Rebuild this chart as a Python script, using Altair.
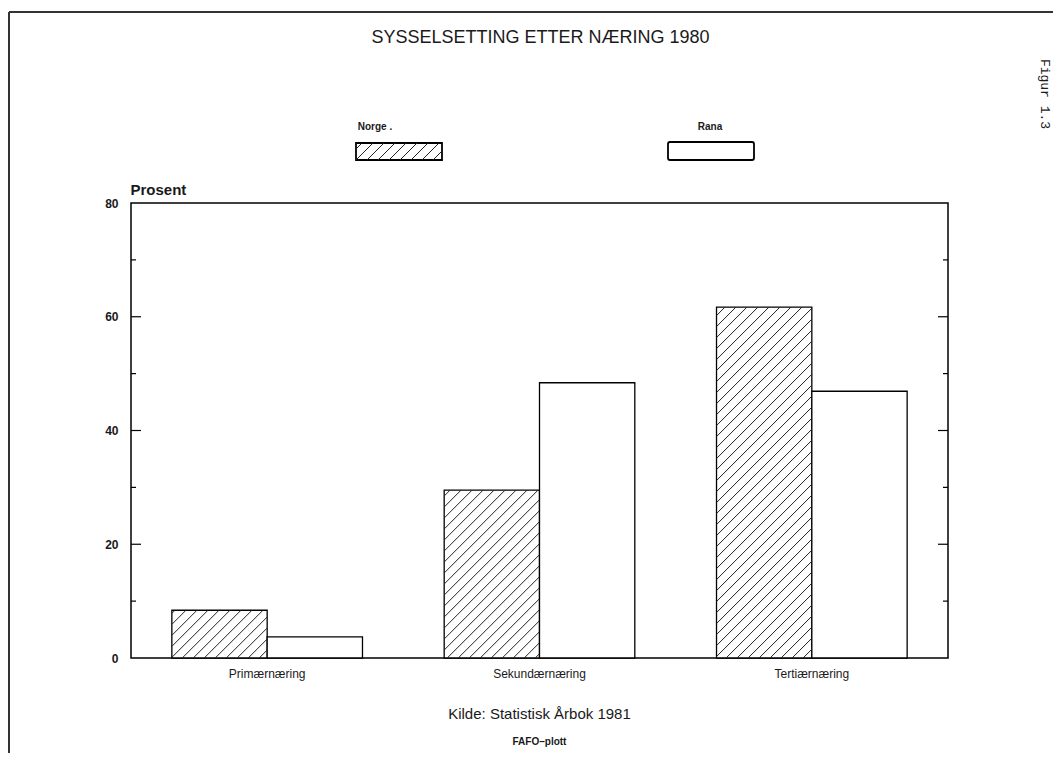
import altair as alt
import pandas as pd

# ---------------- data ----------------
categories = ["Primærnæring", "Sekundærnæring", "Tertiærnæring"]
series = ["Norge", "Rana"]
norge = [8.4, 29.5, 61.7]
rana = [3.7, 48.4, 46.9]
y_label_values = [0, 20, 40, 60, 80]
y_major_ticks = [20, 40, 60]
y_minor_ticks = [10, 30, 50, 70]

# ---------------- layout constants ----------------
W, H = 817, 455
YMAX = 80
OFF_PAD = 3 / 7            # outer padding of the xOffset band scale
HATCH_STEP = 11            # px between hatch lines (horizontal)
FONT = "Liberation Sans"
INK = "#1a1a1a"

rows = []
for i, c in enumerate(categories):
    rows.append({"Næring": c, "Område": "Norge", "Prosent": norge[i]})
    rows.append({"Næring": c, "Område": "Rana", "Prosent": rana[i]})
df = pd.DataFrame(rows)


def hatch_lines(x0, x1, y0, y1, step=HATCH_STEP):
    """45-degree '/' hatch inside pixel rect (y up)."""
    out = []
    w, h = x1 - x0, y1 - y0
    c = -h - (x0 % step)
    while c < w:
        u0, u1 = max(0.0, c), min(w, h + c)
        if u1 > u0:
            out.append((x0 + u0, y0 + u0 - c, x0 + u1, y0 + u1 - c))
        c += step
    return out


# hatch for the Norge bars, in data units (x: 0..3 bands, y: 0..80)
bw_px = W / len(categories)
ypx = H / YMAX
step_frac = 1 / (2 + 2 * OFF_PAD)
left_frac = OFF_PAD * step_frac
hrows = []
for i, v in enumerate(norge):
    x0 = (i + left_frac) * bw_px
    x1 = (i + left_frac + step_frac) * bw_px
    for a, b, c2, d in hatch_lines(x0, x1, 0, v * ypx):
        hrows.append({"hx": a / bw_px, "hy": b / ypx, "hx2": c2 / bw_px, "hy2": d / ypx})
hatch_df = pd.DataFrame(hrows)

# legend swatch geometry (pixels relative to plot origin, y down)
LEG_NORGE = (225, 311, -60, -43)
LEG_RANA = (537, 623, -61, -43)
lrows = []
for a, b, c2, d in hatch_lines(LEG_NORGE[0], LEG_NORGE[1], -LEG_NORGE[3], -LEG_NORGE[2]):
    lrows.append({"lx": a, "ly": -b, "lx2": c2, "ly2": -d})
leg_hatch_df = pd.DataFrame(lrows)

one = pd.DataFrame({"d": [0]})
yscale = alt.Scale(domain=[0, YMAX], nice=False, zero=True)

# ---------------- bars ----------------
bars = alt.Chart(df).mark_bar(fill="white", stroke="black", strokeWidth=1.3).encode(
    x=alt.X(
        "Næring:N",
        sort=categories,
        scale=alt.Scale(paddingInner=0, paddingOuter=0, round=False),
        axis=alt.Axis(
            title=None, labelAngle=0, ticks=False, domain=False, labelPadding=10,
            labelFont=FONT, labelFontSize=12, labelColor=INK,
        ),
    ),
    xOffset=alt.XOffset(
        "Område:N", sort=series,
        scale=alt.Scale(paddingInner=0, paddingOuter=OFF_PAD, round=False),
    ),
    y=alt.Y(
        "Prosent:Q",
        scale=yscale,
        axis=alt.Axis(
            values=y_label_values, ticks=False, domain=False, grid=False,
            labelPadding=13, labelFont=FONT, labelFontSize=12, labelFontWeight="bold",
            labelColor=INK,
            title="Prosent", titleAngle=0, titleAlign="left", titleBaseline="alphabetic",
            titleX=-1, titleY=-9, titleFont=FONT, titleFontSize=15, titleFontWeight="bold",
            titleColor=INK,
        ),
    ),
)

hatch = alt.Chart(hatch_df).mark_rule(color="#222", strokeWidth=1).encode(
    x=alt.X("hx:Q", scale=alt.Scale(domain=[0, len(categories)], nice=False, zero=False), axis=None),
    x2="hx2:Q",
    y=alt.Y("hy:Q", scale=yscale, axis=None),
    y2="hy2:Q",
)

# ---------------- inward ticks ----------------
def ticks(vals, x0, x1):
    return alt.Chart(pd.DataFrame({"v": vals})).mark_rule(color="black", strokeWidth=1.2).encode(
        y=alt.Y("v:Q", scale=yscale, axis=None), x=alt.value(x0), x2=alt.value(x1)
    )

tick_layers = [
    ticks(y_major_ticks, 0, 10), ticks(y_minor_ticks, 0, 5),
    ticks(y_major_ticks, W - 10, W), ticks(y_minor_ticks, W - 5, W),
]

# ---------------- legend ----------------
def swatch(g, radius=0):
    return alt.Chart(one).mark_rect(fill="white", stroke="black", strokeWidth=1.8, cornerRadius=radius).encode(
        x=alt.value(g[0]), x2=alt.value(g[1]), y=alt.value(g[2]), y2=alt.value(g[3])
    )

leg_hatch = alt.Chart(leg_hatch_df).mark_rule(color="#222", strokeWidth=1).encode(
    x=alt.X("lx:Q", scale=None), x2="lx2:Q", y=alt.Y("ly:Q", scale=None), y2="ly2:Q"
)

def label(text, x, y, size, weight="normal", font=FONT, angle=0, align="center", baseline="alphabetic"):
    return alt.Chart(one).mark_text(
        text=text, font=font, fontSize=size, fontWeight=weight, color=INK,
        angle=angle, align=align, baseline=baseline,
    ).encode(x=alt.value(x), y=alt.value(y))

texts = [
    label("SYSSELSETTING ETTER NÆRING 1980", W / 2 + 1, -160, 18),
    label("Norge .", 244, -73, 10, "bold"),
    label("Rana", 579, -73, 10, "bold"),
    label("Kilde: Statistisk Årbok 1981", W / 2, 516, 15),
    label("FAFO–plott", W / 2, 542, 10, "bold"),
    label("Figur 1.3", 914, -109, 13, font="Liberation Mono", angle=90, baseline="middle"),
]

frame = [
    alt.Chart(one).mark_rule(color="#333", strokeWidth=2).encode(
        x=alt.value(-122), x2=alt.value(W + 105), y=alt.value(-191)
    ),
    alt.Chart(one).mark_rule(color="#333", strokeWidth=2).encode(
        x=alt.value(-122), y=alt.value(-191), y2=alt.value(H + 95)
    ),
]

chart = (
    alt.layer(
        bars, hatch, *tick_layers, swatch(LEG_NORGE), leg_hatch, swatch(LEG_RANA, 2),
        *texts, *frame,
    )
    .resolve_scale(x="independent", y="independent")
    .properties(
        width=W, height=H,
        padding={"left": 123, "top": 195, "right": 105, "bottom": 95},
        autosize=alt.AutoSizeParams(type="none"),
        background="white",
    )
    .configure_view(stroke="black", strokeWidth=1.5)
)

chart.save("out.html", embed_options={"renderer": "svg", "actions": False})
